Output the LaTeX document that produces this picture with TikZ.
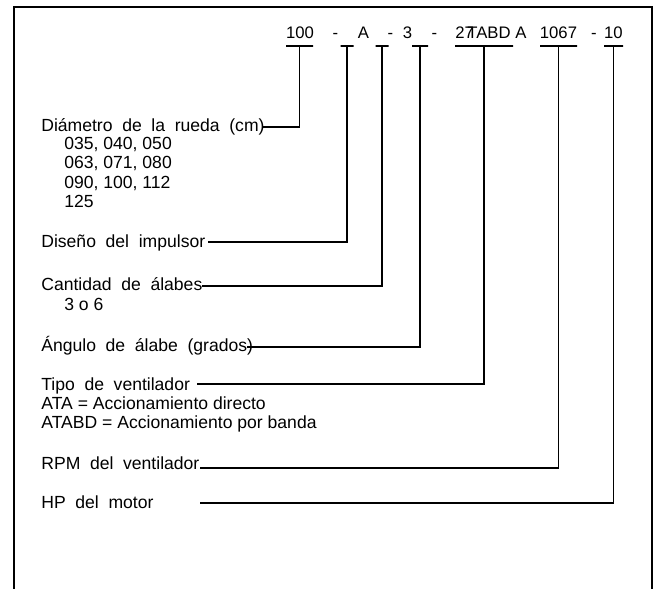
\documentclass[tikz,border=0pt]{standalone}
\usepackage{fontspec}
\setmainfont{Liberation Sans}
\newlength{\px}
\setlength{\px}{0.02cm}
\newcommand{\lblfont}{\fontsize{10}{12}\selectfont\spaceskip=0.55em\relax}
\tikzset{
  frame/.style={line width=0.8pt},
  lead/.style={line width=0.9pt},
  lbl/.style={anchor=base west, inner sep=0pt, font=\lblfont},
  sub/.style={anchor=base west, inner sep=0pt, font=\fontsize{10}{12}\selectfont},
  code/.style={anchor=base, inner sep=0pt, font=\fontsize{9.5}{11}\selectfont},
  uline/.style={draw, line width=0.9pt, inner sep=0pt, outer sep=0pt, minimum height=0pt}
}
\begin{document}
\begin{tikzpicture}[x=0.02cm, y=-0.02cm]
\useasboundingbox (0,0) rectangle (657,589);
\draw[frame] (14,589) -- (14,7) -- (652,7) -- (652,589);
\node[code] at (300,38) (c1) {100};
\node[code] at (335.5,38) (c2) {-};
\node[code] at (363.5,38) (c3) {A};
\node[code] at (390.5,38) (c4) {-};
\node[code] at (407.5,38) (c5) {3};
\node[code] at (434.5,38) (c6) {-};
\node[code, anchor=base west] at (455,38) (c7) {27};
\node[code, anchor=base west] at (467,38) (c8) {TABD A};
\node[code] at (558.5,38) (c9) {1067};
\node[code] at (594,38) (c10) {-};
\node[code] at (613.5,38) (c11) {10};
\node[uline, minimum width=27\px] at (299.5,46) (u1) {};
\node[uline, minimum width=13\px] at (347,46) (u2) {};
\node[uline, minimum width=13\px] at (382,46) (u3) {};
\node[uline, minimum width=16\px] at (420,46) (u4) {};
\node[uline, minimum width=58\px] at (484,46) (u5) {};
\node[uline, minimum width=37\px] at (558.5,46) (u6) {};
\node[uline, minimum width=19\px] at (613.5,46) (u7) {};
\node[lbl] at (41,131) (dia) {Diámetro de la rueda (cm)};
\node[sub] at (64,149) (dia1) {035, 040, 050};
\node[sub] at (64,168.5) (dia2) {063, 071, 080};
\node[sub] at (64,188) (dia3) {090, 100, 112};
\node[sub] at (64,207.5) (dia4) {125};
\node[lbl] at (41,247) (dis) {Diseño del impulsor};
\node[lbl] at (41,290.5) (can) {Cantidad de álabes};
\node[sub] at (64,310) (can1) {3 o 6};
\node[lbl] at (41,351) (ang) {Ángulo de álabe (grados)};
\node[lbl] at (41,390) (tip) {Tipo de ventilador};
\node[sub] at (41,409.5) (tip1) {ATA = Accionamiento directo};
\node[sub] at (41,428.5) (tip2) {ATABD = Accionamiento por banda};
\node[lbl] at (41,469.5) (rpm) {RPM del ventilador};
\node[lbl] at (41,508) (hp) {HP del motor};
\coordinate (l1) at (262,127);
\coordinate (l2) at (208,242);
\coordinate (l3) at (202,286);
\coordinate (l4) at (247,347);
\coordinate (l5) at (197,384);
\coordinate (l6) at (200,468);
\coordinate (l7) at (200,503);
\draw[lead] (l1) -| (u1.south);
\draw[lead] (l2) -| (u2.south);
\draw[lead] (l3) -| (u3.south);
\draw[lead] (l4) -| (u4.south);
\draw[lead] (l5) -| (u5.south);
\draw[lead] (l6) -| (u6.south);
\draw[lead] (l7) -| (u7.south);
\end{tikzpicture}
\end{document}
